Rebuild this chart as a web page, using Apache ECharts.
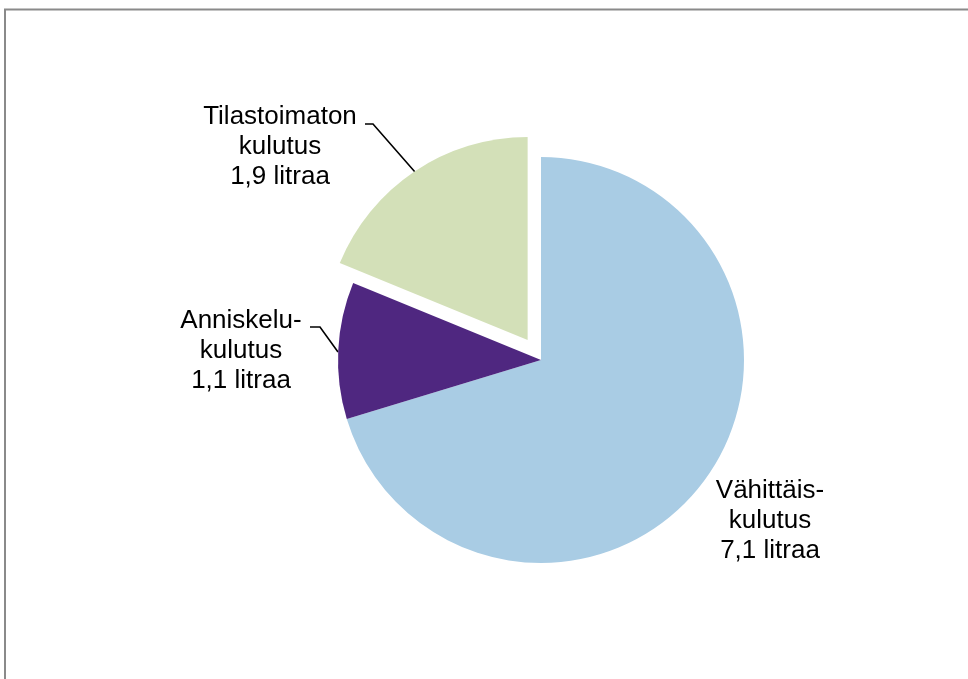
<!DOCTYPE html>
<html>
<head>
<meta charset="utf-8">
<script src="https://cdn.jsdelivr.net/npm/echarts@6/dist/echarts.min.js"></script>
<style>
    html, body { margin: 0; padding: 0; background: #fff; }
    #main { width: 968px; height: 679px; }
</style>
</head>
<body>
<div id="main"></div>
<script>
// kulutus litroina
var categories = ['Vähittäiskulutus', 'Anniskelukulutus', 'Tilastoimaton kulutus'];
var values = [7.1, 1.1, 1.9];
var labelTexts = [
    'Vähittäis-\nkulutus\n7,1 litraa',
    'Anniskelu-\nkulutus\n1,1 litraa',
    'Tilastoimaton\nkulutus\n1,9 litraa'
];
var colors = ['#A9CCE4', '#4F2780', '#D3E0B8'];
var exploded = 2; // index of the slice pulled out

// label spots and leader lines
var labelSpots = [
    { x: 770, y: 521, line: null },
    { x: 241, y: 351, line: [[338, 352], [320, 327], [310, 327]] },
    { x: 280, y: 147, line: [[415, 172], [373, 124], [365, 124]] }
];

var cx = 541, cy = 360, r = 203, pull = 24;

// direction of the pulled slice (mid angle, clockwise from top)
var total = values.reduce(function(a, b){ return a + b; }, 0);
var before = 0, i;
for (i = 0; i < exploded; i++) before += values[i];
var midAng = (before + values[exploded] / 2) / total * Math.PI * 2;
var offX = Math.sin(midAng) * pull,
    offY = -Math.cos(midAng) * pull;

var chart = echarts.init(document.getElementById('main'));

// pieces = which slices this series shows
function makeData(pieces){
    return categories.map(function(name, i){
        var on = pieces.indexOf(i) > -1;
        return {
            name: name,
            value: values[i],
            itemStyle: { color: on ? colors[i] : 'rgba(0,0,0,0)' },
            label: { show: on, formatter: labelTexts[i] },
            labelLine: { show: on && labelSpots[i].line !== null }
        };
    });
}

function makeSeries(center, pieces){
    return {
        type: 'pie',
        center: center,
        radius: r,
        startAngle: 90,
        clockwise: true,
        avoidLabelOverlap: false,
        silent: true,
        label: {
            position: 'outside',
            color: '#000',
            fontFamily: '"Liberation Sans", Arial, sans-serif',
            fontSize: 26,
            lineHeight: 30,
            align: 'center'
        },
        labelLine: {
            lineStyle: { color: '#000', width: 1.6 }
        },
        labelLayout: function(params){
            var s = labelSpots[params.dataIndex];
            var res = {
                x: s.x,
                y: s.y,
                align: 'center',
                verticalAlign: 'middle'
            };
            if (s.line) {
                res.labelLinePoints = s.line;
            }
            return res;
        },
        emphasis: { disabled: true },
        data: makeData(pieces)
    };
}

var rest = [];
for (i = 0; i < categories.length; i++) {
    if (i !== exploded) rest.push(i);
}

chart.setOption({
    animation: false,
    graphic: [{
        type: 'rect',
        shape: { x: 5, y: 9.5, width: 1200, height: 1000 },
        style: { fill: null, stroke: '#8a8a8a', lineWidth: 2 },
        silent: true
    }],
    series: [
        makeSeries([cx, cy], rest),
        makeSeries([cx + offX, cy + offY], [exploded])
    ]
});
</script>
</body>
</html>
